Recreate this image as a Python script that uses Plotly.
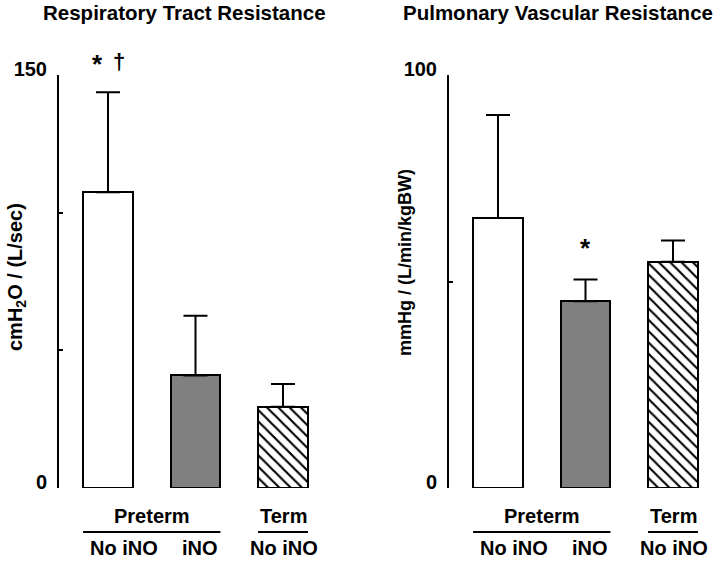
import plotly.graph_objects as go

# ---- data ----
groups = ["Preterm No iNO", "Preterm iNO", "Term No iNO"]
rtr_values = [107.4, 40.9, 29.5]
rtr_errors = [36.3, 21.7, 8.3]
pvr_values = [65.4, 45.2, 54.8]
pvr_errors = [24.9, 5.3, 5.1]
rtr_ticks = [0, 150]
rtr_minor_ticks = [50, 100]
pvr_ticks = [0, 100]
pvr_minor_ticks = [50]
sub_labels = ["No iNO", "iNO", "No iNO"]

W, H = 720, 562
FONT = "Liberation Sans, Arial, sans-serif"
xpos = [0, 1, 2]
bar_w = 0.57
fills = ["white", "#808080", "white"]
patterns = ["", "", "\\"]


def px(x):
    return x / W


def py(y):
    return 1 - y / H


fig = go.Figure()


def add_panel(values, errors, xa, ya):
    for i in range(3):
        fig.add_trace(go.Bar(
            x=[xpos[i]], y=[values[i]], width=bar_w,
            xaxis=xa, yaxis=ya, showlegend=False,
            marker=dict(color=fills[i],
                        line=dict(color="black", width=2),
                        pattern=dict(shape=patterns[i], fgcolor="black",
                                     bgcolor="white", size=8, solidity=0.27)),
            error_y=dict(type="data", array=[errors[i]], arrayminus=[0],
                         symmetric=False, color="black", thickness=2, width=12),
        ))


add_panel(rtr_values, rtr_errors, "x", "y")
add_panel(pvr_values, pvr_errors, "x2", "y2")

xr = [-0.56, 2.4]
dom1 = [px(59), px(318)]
dom2 = [px(449), px(708)]
ydom = [py(488), py(75)]

xcommon = dict(range=xr, visible=False, fixedrange=True, automargin=False)
ycommon = dict(showline=True, linewidth=2, linecolor="black", ticks="inside",
               ticklen=4, tickwidth=2, tickcolor="black", showgrid=False,
               zeroline=False, ticklabelstandoff=6, ticklabelshift=-6,
               automargin=False, fixedrange=True,
               tickfont=dict(family=FONT, size=20, color="black", weight="bold"))

fig.update_layout(
    template="none",
    width=W, height=H, margin=dict(l=0, r=0, t=0, b=0, pad=0, autoexpand=False),
    paper_bgcolor="white", plot_bgcolor="white",
    bargap=0,
    xaxis=dict(domain=dom1, anchor="y", **xcommon),
    yaxis=dict(domain=ydom, anchor="x", range=[0, 150], tickmode="array",
               tickvals=rtr_ticks, ticktext=[str(v) for v in rtr_ticks],
               minor=dict(tickmode="array", tickvals=rtr_minor_ticks,
                          ticks="inside", ticklen=4, tickwidth=2,
                          tickcolor="black", showgrid=False),
               **ycommon),
    xaxis2=dict(domain=dom2, anchor="y2", **xcommon),
    yaxis2=dict(domain=ydom, anchor="x2", range=[0, 100], tickmode="array",
                tickvals=pvr_ticks, ticktext=[str(v) for v in pvr_ticks],
                minor=dict(tickmode="array", tickvals=pvr_minor_ticks,
                           ticks="inside", ticklen=4, tickwidth=2,
                           tickcolor="black", showgrid=False),
                **ycommon),
)

bold = dict(family=FONT, color="black", weight="bold")


def ann(text, x, y, size, xref="paper", angle=0):
    fig.add_annotation(text=text, x=x, y=y, xref=xref, yref="paper",
                       showarrow=False, textangle=angle, borderpad=0,
                       xanchor="center", yanchor="middle",
                       font=dict(size=size, **bold))


# titles
ann("Respiratory Tract Resistance", px(185), py(12), 20.5)
ann("Pulmonary Vascular Resistance", px(558), py(12), 20.5)
# axis titles
ann("cmH<sub>2</sub>O / (L/sec)", px(16), py(277), 20, angle=-90)
ann("mmHg / (L/min/kgBW)", px(405), py(263), 18, angle=-90)

# group labels under each panel
for xa in ["x", "x2"]:
    ann("Preterm", 0.5, py(516), 20, xref=xa)
    ann("Term", 2, py(516), 20, xref=xa)
    ann(sub_labels[0], 0.18, py(548), 20, xref=xa)
    ann(sub_labels[1], 1.05, py(548), 20, xref=xa)
    ann(sub_labels[2], 2.01, py(548), 20, xref=xa)
    fig.add_shape(type="line", xref=xa, yref="paper",
                  x0=-bar_w / 2, x1=1 + bar_w / 2, y0=py(532), y1=py(532),
                  line=dict(color="black", width=2))
    fig.add_shape(type="line", xref=xa, yref="paper",
                  x0=2 - bar_w / 2, x1=2 + bar_w / 2, y0=py(532), y1=py(532),
                  line=dict(color="black", width=2))

# significance markers
ann("*", -0.12, py(64), 26, xref="x")
ann("†", 0.12, py(62), 22, xref="x")
ann("*", 1.0, py(248), 26, xref="x2")

fig.write_html("out.html",
               config={"displayModeBar": False},
               post_script="document.body.style.margin='0';")
